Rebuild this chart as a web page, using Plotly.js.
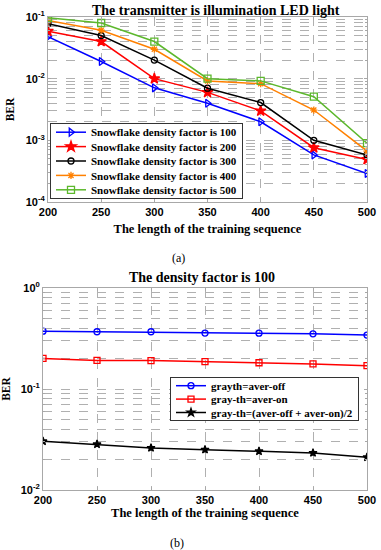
<!DOCTYPE html>
<html><head><meta charset="utf-8">
<script src="https://cdn.plot.ly/plotly-3.0.1.min.js"></script>
<style>html,body{margin:0;padding:0;background:#fff}</style>
</head><body><div id="chart" style="width:381px;height:550px"></div>
<script>
// ---- data (a) ----
const seqLen = [200, 250, 300, 350, 400, 450, 500];
const ber100 = [0.048, 0.019, 0.0071, 0.004, 0.002, 0.00058, 0.00029];
const ber200 = [0.059, 0.040, 0.010, 0.006, 0.003, 0.00076, 0.00049];
const ber300 = [0.078, 0.050, 0.020, 0.0070, 0.0041, 0.0010, 0.00058];
const ber400 = [0.088, 0.061, 0.030, 0.0092, 0.0083, 0.0031, 0.00067];
const ber500 = [0.097, 0.080, 0.040, 0.0100, 0.0092, 0.0051, 0.00090];
const namesA = ['Snowflake density factor is 100', 'Snowflake density factor is 200',
  'Snowflake density factor is 300', 'Snowflake density factor is 400', 'Snowflake density factor is 500'];
// ---- data (b) ----
const berOff = [0.374, 0.369, 0.369, 0.358, 0.357, 0.352, 0.342];
const berOn = [0.201, 0.192, 0.191, 0.187, 0.182, 0.177, 0.170];
const berMid = [0.0304, 0.0284, 0.0261, 0.0251, 0.0242, 0.0233, 0.0211];
const namesB = ['grayth=aver-off', 'gray-th=aver-on', 'gray-th=(aver-off + aver-on)/2'];
// ---- tick labels ----
const xTicks = [200, 250, 300, 350, 400, 450, 500];
const yTicksA = [1e-4, 1e-3, 1e-2, 1e-1];
const yLabelsA = ['10<sup>-4</sup>', '10<sup>-3</sup>', '10<sup>-2</sup>', '10<sup>-1</sup>'];
const yTicksB = [1e-2, 1e-1, 1];
const yLabelsB = ['10<sup>-2</sup>', '10<sup>-1</sup>', '10<sup>0</sup>'];

const serif = 'Liberation Serif, Times New Roman, serif';
const sans = 'Liberation Sans, Arial, sans-serif';

const colsA = ['#0000ff', '#ff0000', '#000000', '#ff8000', '#5cb82c'];
const symA = ['triangle-right-open', 'star', 'circle-open', 'asterisk-open', 'square-open'];
const sizeA = [7, 8, 6, 6, 7];
const seriesA = [ber100, ber200, ber300, ber400, ber500];

const traces = [];
seriesA.forEach((ys, i) => {
  traces.push({
    x: seqLen, y: ys, name: namesA[i], type: 'scatter', mode: 'lines+markers',
    xaxis: 'x', yaxis: 'y', legend: 'legend',
    line: {color: colsA[i], width: 1.5},
    marker: {symbol: symA[i], size: sizeA[i], color: colsA[i], line: {color: colsA[i], width: 1.3}}
  });
});
const colsB = ['#0000ff', '#ff0000', '#000000'];
const symB = ['circle-open', 'square-open', 'star'];
const seriesB = [berOff, berOn, berMid];
seriesB.forEach((ys, i) => {
  traces.push({
    x: seqLen, y: ys, name: namesB[i], type: 'scatter', mode: 'lines+markers',
    xaxis: 'x2', yaxis: 'y2', legend: 'legend2',
    line: {color: colsB[i], width: 1.5},
    marker: {symbol: symB[i], size: 6, color: colsB[i], line: {color: colsB[i], width: 1.3}}
  });
});

const W = 381, H = 550;
const px = v => v / W, py = v => 1 - v / H;
const gridCol = '#b0b0b0', frameCol = '#a8a8a8';
const tickFont = {family: sans, size: 11, color: '#000', weight: 'bold'};
const axTitleFont = {family: serif, size: 12.5, color: '#000', weight: 'bold'};
const berFont = {family: serif, size: 11.5, color: '#000', weight: 'bold'};
const headFont = {family: serif, size: 14, color: '#000', weight: 'bold'};
const legFont = {family: serif, size: 11, color: '#000', weight: 'bold'};

function xAxis(dom, anchor, standoff) {
  return {
    domain: dom, anchor: anchor, range: [200, 500], tickmode: 'array', tickvals: xTicks,
    ticktext: xTicks.map(String), tickfont: tickFont, ticks: 'inside', ticklen: 3,
    tickcolor: frameCol, showline: true, linecolor: frameCol, linewidth: 1, mirror: 'ticks',
    showgrid: true, gridcolor: gridCol, griddash: 'dash', gridwidth: 1, zeroline: false,
    title: {text: 'The length of the training sequence', font: axTitleFont, standoff: standoff}
  };
}
function yAxis(dom, anchor, range, tv, tt) {
  return {
    domain: dom, anchor: anchor, type: 'log', range: range, tickmode: 'array',
    tickvals: tv, ticktext: tt, tickfont: tickFont, ticks: 'inside', ticklen: 3,
    tickcolor: frameCol, showline: true, linecolor: frameCol, linewidth: 1, mirror: 'ticks',
    showgrid: true, gridcolor: gridCol, griddash: 'dash', gridwidth: 1, zeroline: false,
    minor: {dtick: 'D1', showgrid: true, gridcolor: gridCol, griddash: 'dash', gridwidth: 1,
      ticks: 'inside', ticklen: 2, tickcolor: frameCol},
    title: {text: 'BER', font: berFont, standoff: 8}
  };
}

const layout = {
  width: W, height: H, margin: {l: 0, r: 0, t: 0, b: 0},
  paper_bgcolor: '#fff', plot_bgcolor: '#fff', showlegend: true,
  xaxis: xAxis([px(48), px(367)], 'y', 7),
  yaxis: yAxis([py(202), py(17)], 'x', [-4, -1], yTicksA, yLabelsA),
  xaxis2: xAxis([px(43), px(367)], 'y2', 3),
  yaxis2: yAxis([py(490), py(288)], 'x2', [-2, 0], yTicksB, yLabelsB),
  legend: {
    x: px(50), y: py(123), xanchor: 'left', yanchor: 'top',
    bgcolor: '#fff', bordercolor: '#333', borderwidth: 1,
    font: legFont, tracegroupgap: 0, itemwidth: 30
  },
  legend2: {
    x: px(170), y: py(377), xanchor: 'left', yanchor: 'top',
    bgcolor: '#fff', bordercolor: '#333', borderwidth: 1,
    font: legFont, tracegroupgap: 0, itemwidth: 30
  },
  annotations: [
    {text: 'The transmitter is illumination LED light', xref: 'paper', yref: 'paper',
      x: px(216), y: py(10), xanchor: 'center', yanchor: 'middle', showarrow: false, font: headFont},
    {text: 'The density factor is 100', xref: 'paper', yref: 'paper',
      x: px(202), y: py(277), xanchor: 'center', yanchor: 'middle', showarrow: false, font: headFont},
    {text: '(a)', xref: 'paper', yref: 'paper', x: px(178), y: py(258), xanchor: 'center', yanchor: 'middle',
      showarrow: false, font: {family: serif, size: 12, color: '#000'}},
    {text: '(b)', xref: 'paper', yref: 'paper', x: px(177), y: py(543), xanchor: 'center', yanchor: 'middle',
      showarrow: false, font: {family: serif, size: 12, color: '#000'}}
  ]
};

// tighten legend row spacing to match the MATLAB-style legend
function compressLegend(cls, spacing) {
  const lg = document.querySelector('.infolayer g.' + cls);
  if (!lg) return;
  const items = lg.querySelectorAll('g.traces');
  const n = items.length;
  items.forEach((it, i) => {
    const m = /translate\(\s*([-\d.e]+)[ ,]+([-\d.e]+)\s*\)/.exec(it.getAttribute('transform') || '');
    const x = m ? +m[1] : 1;
    it.setAttribute('transform', 'translate(' + x + ',' + (2 + spacing / 2 + i * spacing) + ')');
  });
  const bg = lg.querySelector('rect.bg');
  if (bg) bg.setAttribute('height', n * spacing + 3);
}

Plotly.newPlot('chart', traces, layout, {displayModeBar: false, staticPlot: true}).then(() => {
  compressLegend('legend', 14.4);
  compressLegend('legend2', 13.4);
});
</script>
</body></html>
